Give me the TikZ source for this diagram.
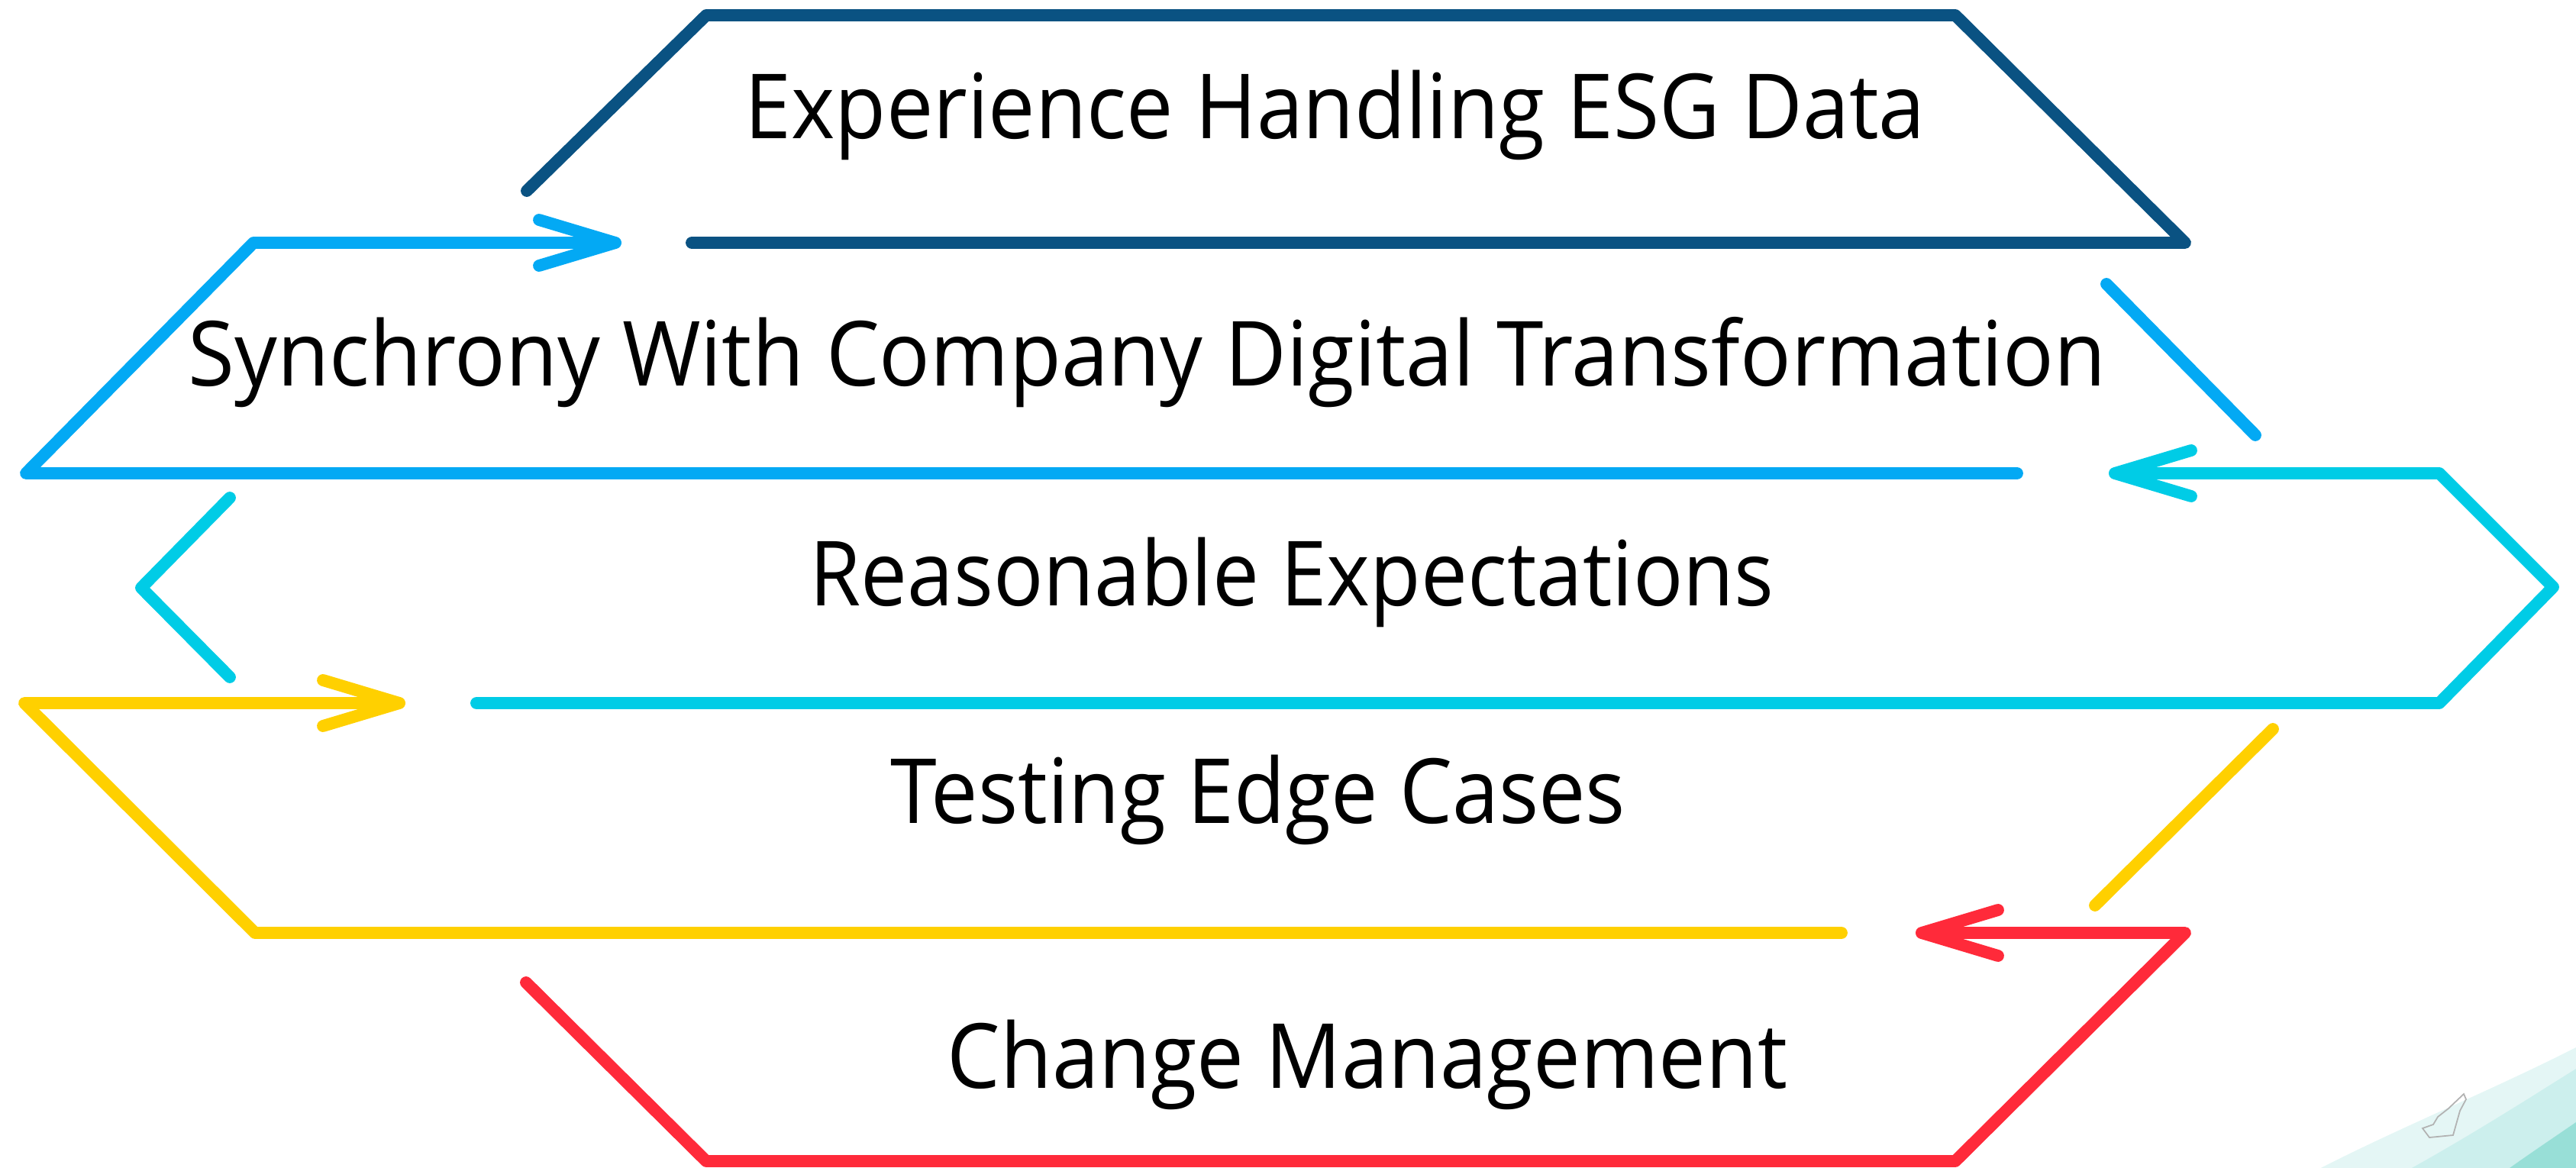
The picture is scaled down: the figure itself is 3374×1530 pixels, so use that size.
\documentclass[tikz,border=0pt]{standalone}
\usepackage{fontspec}
\setmainfont{Open Sans}
\usetikzlibrary{arrows.meta}
\definecolor{cDark}{HTML}{0A5282}
\definecolor{cBlue}{HTML}{03A9F4}
\definecolor{cCyan}{HTML}{00CCE6}
\definecolor{cYellow}{HTML}{FFD000}
\definecolor{cRed}{HTML}{FF2A3A}
\definecolor{cWashA}{HTML}{E4F6F5}
\definecolor{cWashM}{HTML}{C6EEEC}
\definecolor{cWashB}{HTML}{6FD3C6}
\tikzset{
  band/.style={line width=4.5pt, line cap=round, line join=round},
  barb/.style={-{Straight Barb[length=1cm,width=0.6cm,round]}},
  lbl/.style={anchor=base west, inner sep=0pt, font=\fontsize{33.5}{40}\selectfont},
}
\newcommand{\fitw}[2]{\resizebox{#1}{\height}{#2}}
\begin{document}
\begin{tikzpicture}[x=0.01cm,y=-0.01cm]
\useasboundingbox (0,0) rectangle (3374,1530);
% watercolor wash in the corner
\begin{scope}
\clip (0,0) rectangle (3374,1530);
\fill[cWashA] (3030,1535) .. controls (3140,1478) and (3260,1430) .. (3374,1372) -- (3374,1535) -- cycle;
\fill[cWashM, opacity=0.8] (3150,1535) .. controls (3240,1485) and (3310,1440) .. (3374,1400) -- (3374,1535) -- cycle;
\fill[cWashB, opacity=0.55] (3280,1535) .. controls (3315,1510) and (3345,1490) .. (3374,1470) -- (3374,1535) -- cycle;
\draw[gray!60, line width=0.5pt] (3182,1490) -- (3173,1478) -- (3187,1473) -- (3193,1463)
  -- (3207,1452) -- (3227,1433) -- (3230,1440) -- (3222,1455) -- (3213,1487) -- cycle;
\end{scope}

% corner coordinates
\coordinate (a1) at (690,250);  \coordinate (a2) at (925,20);
\coordinate (a3) at (2561,20);  \coordinate (a4) at (2862,318);
\coordinate (a5) at (906,318);
\coordinate (b1) at (2642,620); \coordinate (b2) at (34,620);
\coordinate (b3) at (332,318);  \coordinate (b4) at (814,318);
\coordinate (c1) at (2759,372); \coordinate (c2) at (2954,570);
\coordinate (d1) at (624,921);  \coordinate (d2) at (3195,921);
\coordinate (d3) at (3344,769); \coordinate (d4) at (3195,620);
\coordinate (d5) at (2762,620);
\coordinate (e1) at (301,652);  \coordinate (e2) at (185,770);
\coordinate (e3) at (301,887);
\coordinate (f1) at (2412,1222); \coordinate (f2) at (334,1222);
\coordinate (f3) at (32,921);   \coordinate (f4) at (531,921);
\coordinate (g1) at (2744,1186); \coordinate (g2) at (2977,955);
\coordinate (h1) at (689,1287); \coordinate (h2) at (925,1521);
\coordinate (h3) at (2561,1521); \coordinate (h4) at (2862,1222);
\coordinate (h5) at (2509,1222);

% bands
\draw[band, cDark] (a1) -- (a2) -- (a3) -- (a4) -- (a5);
\draw[band, barb, cBlue] (b1) -- (b2) -- (b3) -- (b4);
\draw[band, cBlue] (c1) -- (c2);
\draw[band, barb, cCyan] (d1) -- (d2) -- (d3) -- (d4) -- (d5);
\draw[band, cCyan] (e1) -- (e2) -- (e3);
\draw[band, barb, cYellow] (f1) -- (f2) -- (f3) -- (f4);
\draw[band, cYellow] (g1) -- (g2);
\draw[band, barb, cRed] (h1) -- (h2) -- (h3) -- (h4) -- (h5);

% labels
\node[lbl] (t1) at (975,182)  {\fitw{15.45cm}{Experience Handling ESG Data}};
\node[lbl] (t2) at (246,505)  {\fitw{25.1cm}{Synchrony With Company Digital Transformation}};
\node[lbl] (t3) at (1060,793) {\fitw{12.62cm}{Reasonable Expectations}};
\node[lbl] (t4) at (1166,1078){\fitw{9.62cm}{Testing Edge Cases}};
\node[lbl] (t5) at (1240,1425){\fitw{11.0cm}{Change Management}};
\end{tikzpicture}
\end{document}
